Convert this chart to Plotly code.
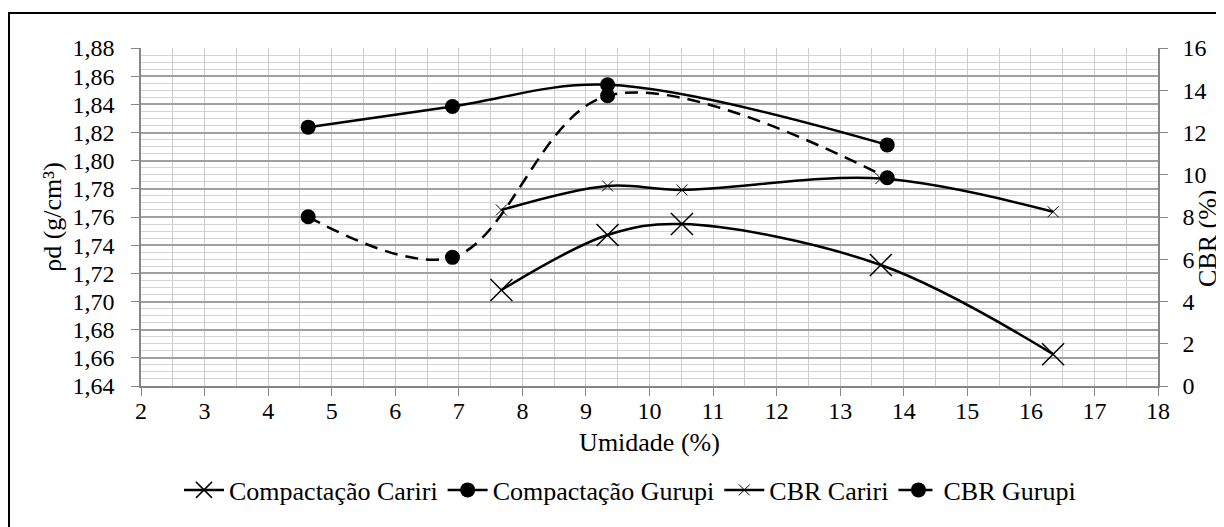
import plotly.graph_objects as go

# Data
umid_cariri = [7.67, 9.34, 10.51, 13.64, 16.35]
comp_cariri = [1.7081, 1.7472, 1.7550, 1.7259, 1.6626]
cbr_cariri = [8.33, 9.47, 9.28, 9.82, 8.25]

umid_gurupi = [4.63, 6.90, 9.34, 13.74]
comp_gurupi = [1.8238, 1.8385, 1.8539, 1.8112]
cbr_gurupi = [8.01, 6.09, 13.74, 9.86]

FONT = "Liberation Serif"
FS = 24
FT = 26

fig = go.Figure()

fig.add_trace(go.Scatter(
    x=umid_cariri, y=comp_cariri, name="Compactação Cariri",
    mode="lines+markers", line=dict(color="black", width=2.5, shape="spline", smoothing=1),
    marker=dict(symbol="x-thin", size=22, line=dict(color="black", width=1.5)),
    yaxis="y"))
fig.add_trace(go.Scatter(
    x=umid_gurupi, y=comp_gurupi, name="Compactação Gurupi",
    mode="lines+markers", line=dict(color="black", width=2.5, shape="spline", smoothing=1),
    marker=dict(symbol="circle", size=15, color="black"),
    yaxis="y"))
fig.add_trace(go.Scatter(
    x=umid_cariri, y=cbr_cariri, name="CBR Cariri",
    mode="lines+markers", line=dict(color="black", width=2.5, shape="spline", smoothing=1),
    marker=dict(symbol="x-thin", size=11, line=dict(color="black", width=1)),
    yaxis="y2"))
fig.add_trace(go.Scatter(
    x=umid_gurupi, y=cbr_gurupi, name="CBR Gurupi",
    mode="lines+markers", line=dict(color="black", width=2.5, dash="13px,8px", shape="spline", smoothing=1),
    marker=dict(symbol="circle", size=15, color="black"),
    yaxis="y2"))

grid_major = "#a0a0a0"
grid_minor = "#d4d4d4"
grid_x = "#cccccc"
axis_c = "#868686"

W, H = 1216, 519

fig.update_layout(
    width=W, height=H,
    margin=dict(l=133, r=66, t=40, b=141, autoexpand=False),
    paper_bgcolor="white", plot_bgcolor="white",
    separators=",.",
    font=dict(family=FONT, size=FS, color="black"),
    showlegend=True,
    legend=dict(orientation="h", x=(630 - 8) / W, xref="container", xanchor="center",
                y=37 / H, yref="container", yanchor="middle",
                font=dict(family=FONT, size=FT), itemwidth=40, tracegroupgap=0,
                bgcolor="rgba(0,0,0,0)"),
    xaxis=dict(
        range=[2, 18], dtick=1, tick0=2, showgrid=True, gridcolor=grid_x, gridwidth=1,
        minor=dict(dtick=0.5, showgrid=True, gridcolor=grid_x, gridwidth=1),
        showline=True, linecolor=axis_c, linewidth=1.5,
        ticks="outside", ticklen=8, tickcolor=axis_c,
        zeroline=False, ticklabelstandoff=-6, automargin=False,
        title=dict(text="Umidade (%)", standoff=10, font=dict(family=FONT, size=FT)),
        tickfont=dict(family=FONT, size=FS),
    ),
    yaxis=dict(
        range=[1.64, 1.88], dtick=0.02, tick0=1.64, tickformat=".2f",
        showgrid=True, gridcolor=grid_major, gridwidth=1.5,
        minor=dict(dtick=0.005, showgrid=True, gridcolor=grid_minor, gridwidth=1),
        showline=True, linecolor=axis_c, linewidth=1.5,
        ticks="outside", ticklen=8, tickcolor=axis_c,
        zeroline=False, ticklabelstandoff=12, automargin=False,
        title=dict(text="ρd (g/cm³)", standoff=3, font=dict(family=FONT, size=FT)),
        tickfont=dict(family=FONT, size=FS),
    ),
    yaxis2=dict(
        range=[0, 16], dtick=2, overlaying="y", side="right",
        showgrid=False, zeroline=False, automargin=False,
        showline=True, linecolor=axis_c, linewidth=1.5,
        ticks="outside", ticklen=8, tickcolor=axis_c, ticklabelstandoff=10,
        tickfont=dict(family=FONT, size=FS),
    ),
)

fig.add_annotation(text="CBR (%)", xref="paper", yref="paper",
                   x=(1207 - 141) / 1017, y=(386 - 238) / 338, xanchor="center", yanchor="middle",
                   textangle=-90, showarrow=False, font=dict(family=FONT, size=FT))

# outer chart border (partly outside the visible window on right/bottom)
fig.add_shape(type="rect", xref="paper", yref="paper",
              x0=(9 - 141) / 1017, x1=1.2, y0=-0.6, y1=(386 - 13) / 338,
              line=dict(color="black", width=2), fillcolor="rgba(0,0,0,0)", layer="below")

fig.write_html("out.html")
